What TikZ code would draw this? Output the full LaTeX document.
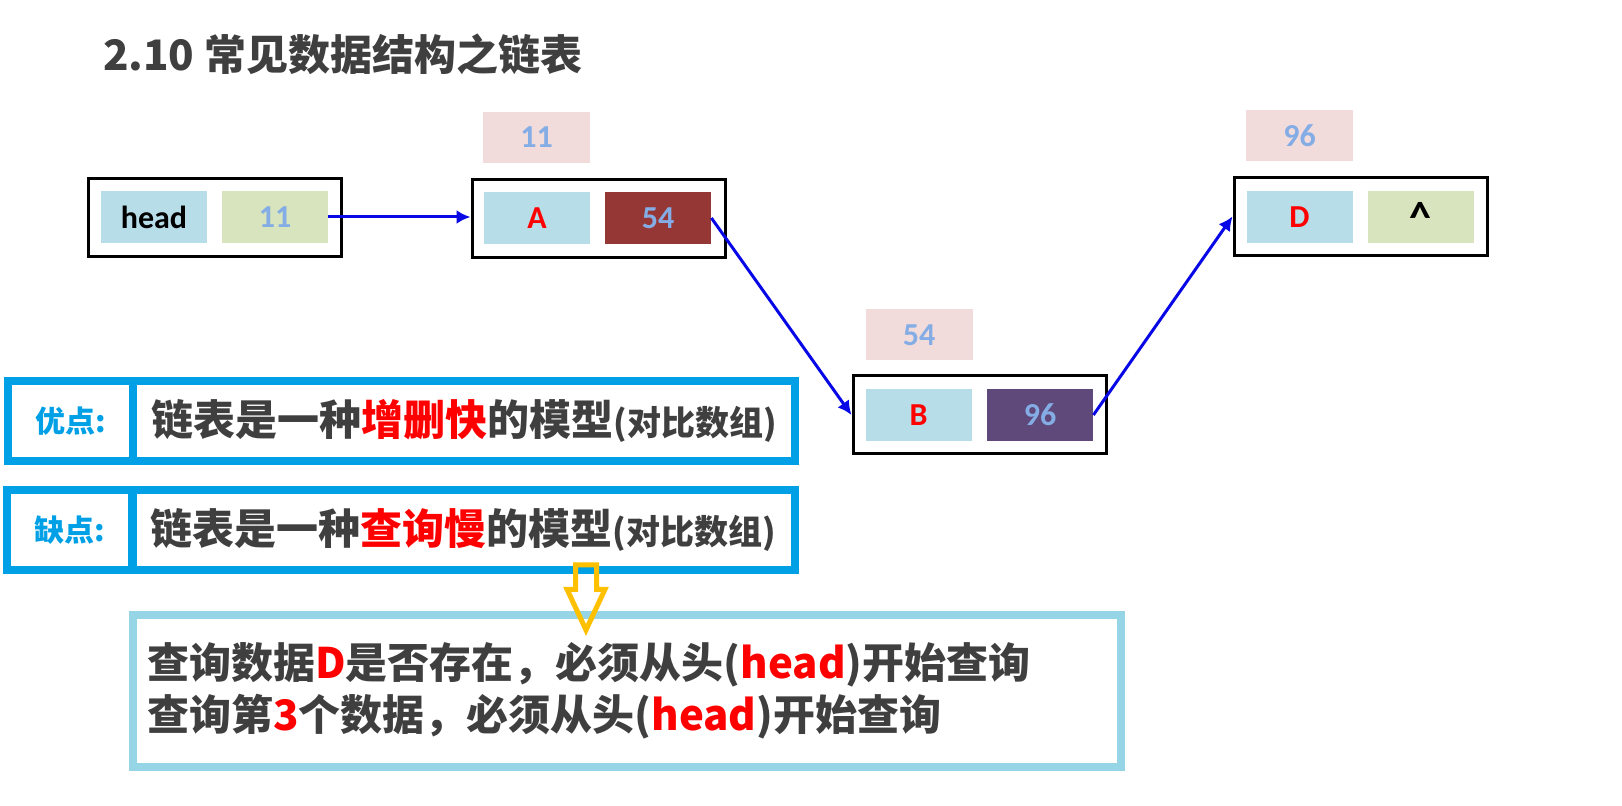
\documentclass[tikz,border=0pt]{standalone}
\usepackage{fontspec}
\usepackage{tikz}
\usetikzlibrary{arrows.meta,shapes.arrows,positioning}
\newfontfamily\cjk{Noto Sans CJK SC}
\newfontfamily\lab{Carlito}
\definecolor{cellblue}{HTML}{B7DDE8}
\definecolor{cellgreen}{HTML}{D7E4BD}
\definecolor{cellred}{HTML}{953735}
\definecolor{cellpurple}{HTML}{5F497A}
\definecolor{addrpink}{HTML}{F2DCDB}
\definecolor{numblue}{HTML}{85ADE5}
\definecolor{linkblue}{HTML}{0808E6}
\definecolor{tagblue}{HTML}{00A0E6}
\definecolor{qblue}{HTML}{96D5E6}
\definecolor{hintyellow}{HTML}{FFC000}
\definecolor{textgray}{HTML}{3F3F3F}

\begin{document}
\begin{tikzpicture}[x=0.5pt,y=-0.5pt,
  cell/.style={fill=#1,minimum width=53pt,minimum height=26pt,inner sep=0pt,
    font=\lab\bfseries\fontsize{16}{16}\selectfont},
  listbox/.style={draw,line width=1.5pt,minimum width=126.5pt,minimum height=39pt,inner sep=0pt},
  addr/.style={fill=addrpink,minimum width=53.5pt,minimum height=25.5pt,inner sep=0pt,
    text=numblue,font=\lab\bfseries\fontsize{16}{16}\selectfont},
  link/.style={linkblue,line width=1.5pt,-{Latex[length=7pt,width=7pt]}},
  tag/.style={draw=tagblue,line width=4pt,minimum height=40pt,inner sep=0pt,
    font=\cjk\bfseries\fontsize{15}{15}\selectfont,text=tagblue},
  say/.style={draw=tagblue,line width=4pt,minimum width=331pt,minimum height=40pt,inner sep=0pt,
    font=\cjk\bfseries\fontsize{21}{21}\selectfont,text=textgray}]
\fill[white] (0,0) rectangle (1622,806);
\useasboundingbox (0,0) rectangle (1622,806);

% title
\node[anchor=west,text=textgray,font=\cjk\bfseries\fontsize{21}{21}\selectfont] (title) at (96,54) {2.10 常见数据结构之链表};

% head
\node[listbox] (hbox) at (215,217.5) {};
\node[cell=cellblue] (hname) at (154,217) {head};
\node[cell=cellgreen,text=numblue] (hnext) at (275,217) {11};

% node A
\node[addr] (aaddr) at (536.5,137.5) {11};
\node[listbox] (abox) at (598.5,219) {};
\node[cell=cellblue,text=red] (adata) at (537,218) {A};
\node[cell=cellred,text=numblue] (anext) at (658,218) {54};

% node B
\node[addr] (baddr) at (919,335) {54};
\node[listbox] (bbox) at (979.5,415) {};
\node[cell=cellblue,text=red] (bdata) at (918.5,415) {B};
\node[cell=cellpurple,text=numblue] (bnext) at (1040,415) {96};

% node D
\node[addr] (daddr) at (1299.5,136) {96};
\node[listbox] (dbox) at (1360.5,216.5) {};
\node[cell=cellblue,text=red] (ddata) at (1299.5,217) {D};
\node[cell=cellgreen] (dnext) at (1420.5,217) {\fontsize{22}{22}\selectfont\textasciicircum};

% links
\draw[link] (hnext.east) -- (hnext.east -| abox.west);
\draw[link] (anext.east) -- (bbox.west);
\draw[link] (bnext.east) -- (dbox.west);

% pros / cons
\node[tag,minimum width=62.5pt] (protag) at (70.5,421) {优点:};
\node[say] (protext) at (464,421) {链表是一种\textcolor{red}{增删快}的模型{\fontsize{17}{17}\selectfont(对比数组)}};
\node[tag,minimum width=62.5pt] (contag) at (69.5,530) {缺点:};
\node[say] (context) at (463.5,530) {链表是一种\textcolor{red}{查询慢}的模型{\fontsize{17}{17}\selectfont(对比数组)}};

% query
\node[draw=qblue,line width=4pt,minimum width=494pt,minimum height=76pt,inner xsep=7pt,
  text width=480pt,align=left,text=textgray,
  font=\cjk\bfseries\fontsize{21}{26}\selectfont] (query) at (627,691)
  {查询数据\textcolor{red}{D}是否存在，必须从头(\textcolor{red}{head})开始查询\\
   查询第\textcolor{red}{3}个数据，必须从头(\textcolor{red}{head})开始查询};

% hint arrow
\node[single arrow,draw=hintyellow,line width=2.5pt,rotate=-90,anchor=tail,
  inner xsep=0pt,inner ysep=4pt,minimum height=32.5pt,
  single arrow head extend=4.25pt,single arrow tip angle=50] (hint) at (586,562.5) {};
\end{tikzpicture}
\end{document}
